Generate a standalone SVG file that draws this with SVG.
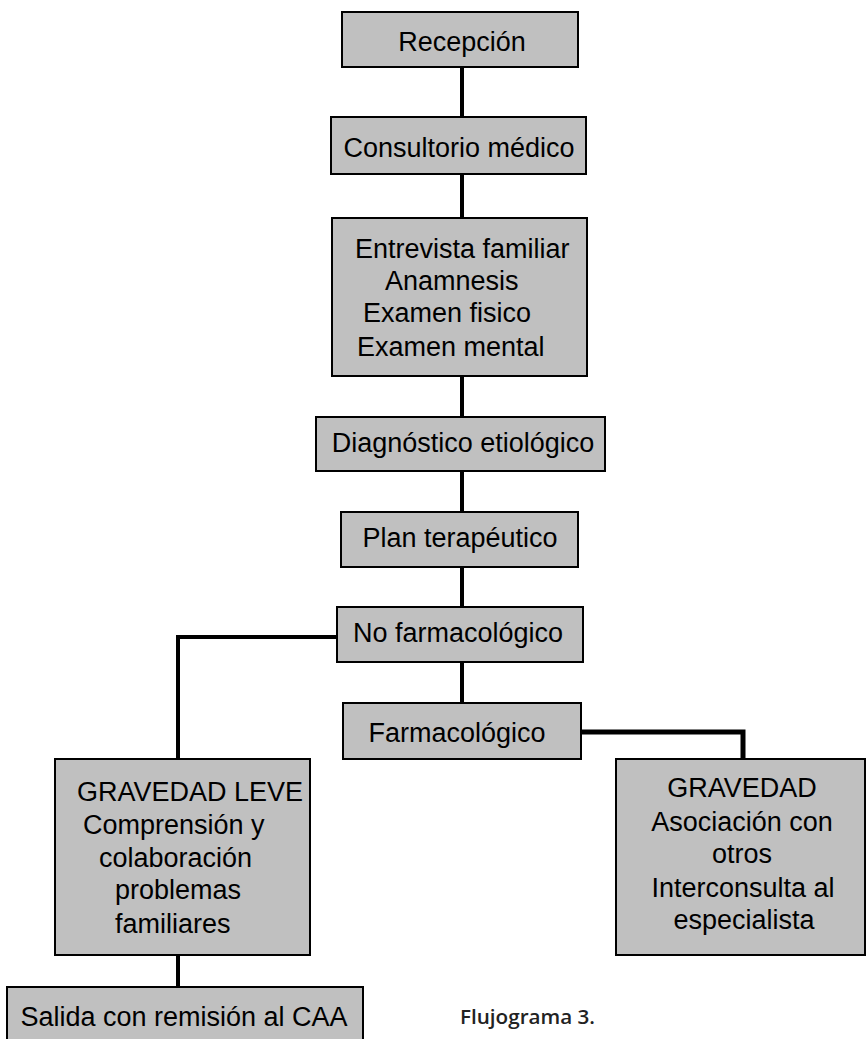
<svg xmlns="http://www.w3.org/2000/svg" width="866" height="1039" viewBox="0 0 866 1039">
<style>
.box{fill:#c0c0c0;stroke:#000;stroke-width:2}
.t{font-family:"Liberation Sans",Arial,sans-serif;font-size:27px;fill:#000}
.m{text-anchor:middle}
.c{fill:none;stroke:#000;stroke-width:4}
.cap{font-family:"Open Sans","DejaVu Sans",sans-serif;font-weight:600;font-size:20px;fill:#222}
</style>
<rect width="866" height="1039" fill="#fff"/>
<g id="connectors">
<line class="c" x1="462" y1="67" x2="462" y2="117"/>
<line class="c" x1="462" y1="174" x2="462" y2="218"/>
<line class="c" x1="462" y1="376" x2="462" y2="417"/>
<line class="c" x1="462" y1="471" x2="462" y2="512"/>
<line class="c" x1="462" y1="567" x2="462" y2="607"/>
<line class="c" x1="462" y1="662" x2="462" y2="703"/>
<polyline class="c" points="337,637 178,637 178,759"/>
<polyline class="c" points="581,732 743,732 743,759" style="stroke-width:5"/>
<line class="c" x1="178" y1="955" x2="178" y2="987"/>
</g>
<g id="recepcion"><rect class="box" x="342" y="12" width="236" height="55"/><text class="t m" x="462" y="51">Recepción</text></g>
<g id="consultorio"><rect class="box" x="331" y="117" width="255" height="57"/><text class="t m" x="459" y="157">Consultorio médico</text></g>
<g id="entrevista"><rect class="box" x="332" y="218" width="255" height="158"/>
<text class="t" x="355" y="258">Entrevista familiar</text>
<text class="t" x="385" y="290">Anamnesis</text>
<text class="t" x="363" y="322">Examen fisico</text>
<text class="t" x="357" y="356">Examen mental</text></g>
<g id="diagnostico"><rect class="box" x="316" y="417" width="289" height="54"/><text class="t m" x="463" y="452">Diagnóstico etiológico</text></g>
<g id="plan"><rect class="box" x="341" y="512" width="237" height="55"/><text class="t m" x="460" y="547">Plan terapéutico</text></g>
<g id="nofarm"><rect class="box" x="337" y="607" width="246" height="55"/><text class="t m" x="458" y="642">No farmacológico</text></g>
<g id="farm"><rect class="box" x="343" y="703" width="238" height="56"/><text class="t m" x="457" y="742">Farmacológico</text></g>
<g id="leve"><rect class="box" x="55" y="759" width="255" height="196"/>
<text class="t" x="77" y="801">GRAVEDAD LEVE</text>
<text class="t" x="83" y="834">Comprensión y</text>
<text class="t" x="99" y="867">colaboración</text>
<text class="t" x="115" y="899">problemas</text>
<text class="t" x="115" y="933">familiares</text></g>
<g id="gravedad"><rect class="box" x="616" y="759" width="249" height="196"/>
<text class="t m" x="742" y="797">GRAVEDAD</text>
<text class="t m" x="742" y="831">Asociación con</text>
<text class="t m" x="742" y="863">otros</text>
<text class="t m" x="743" y="897">Interconsulta al</text>
<text class="t m" x="744" y="929">especialista</text></g>
<g id="salida"><rect class="box" x="7" y="987" width="356" height="60"/><text class="t m" x="184" y="1026">Salida con remisión al CAA</text></g>
<text class="cap" x="460" y="1024" textLength="135" lengthAdjust="spacingAndGlyphs">Flujograma 3.</text>
</svg>
